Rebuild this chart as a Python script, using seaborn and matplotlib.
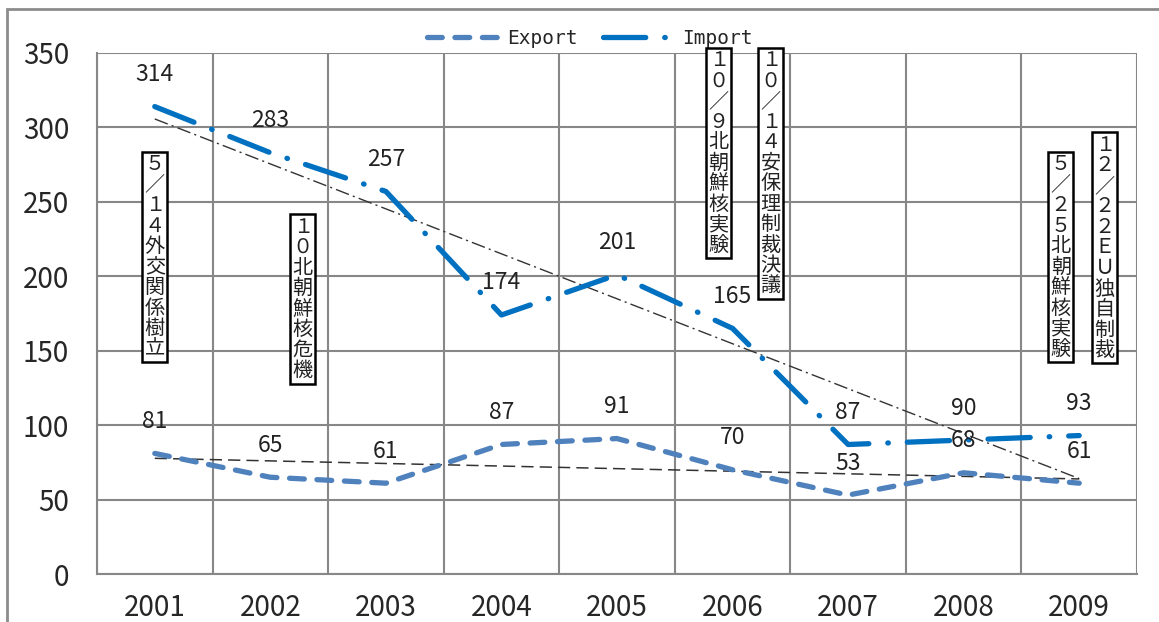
import matplotlib
matplotlib.use('Agg')
import numpy as np
import pandas as pd
import seaborn as sns
import matplotlib.pyplot as plt
from matplotlib.patches import Rectangle
from matplotlib.ticker import FixedLocator, MultipleLocator

years = ['2001', '2002', '2003', '2004', '2005', '2006', '2007', '2008', '2009']
export_vals = [81, 65, 61, 87, 91, 70, 53, 68, 61]
import_vals = [314, 283, 257, 174, 201, 165, 87, 90, 93]

# event notes: (x in category units, top y, text)
note_x = [0.0, 1.28, 4.88, 5.33, 7.84, 8.22]
note_top = [282, 240, 352, 352, 282, 295]
note_txt = ['５／１４外交関係樹立', '１０北朝鮮核危機', '１０／９北朝鮮核実験',
            '１０／１４安保理制裁決議', '５／２５北朝鮮核実験', '１２／２２ＥＵ独自制裁']

export_color = '#4f81bd'
import_color = '#0070c0'
grid_color = '#878787'

sns.set_style("white")
plt.rcParams['font.family'] = ['Noto Sans CJK JP', 'DejaVu Sans']

xs = np.arange(len(years))
fig = plt.figure(figsize=(11.59, 6.22), dpi=100)
ax = fig.add_axes([97/1159, 48/622, 1040/1159, 521/622])

# outer chart frame
fig.patches.append(Rectangle((7/1159, -0.2), 1.2, 1 - 9/622 + 0.2, transform=fig.transFigure,
                             fill=False, ec='#8c8c8c', lw=2))

sns.lineplot(x=xs, y=export_vals, ax=ax, color=export_color, lw=3.8,
             linestyle=(0, (2.8, 2.4)), dash_capstyle='round', label='Export', zorder=3)
sns.lineplot(x=xs, y=import_vals, ax=ax, color=import_color, lw=3.8,
             linestyle=(0, (8.0, 3.6, 0.1, 3.6)), dash_capstyle='round', label='Import', zorder=4)

# linear trend lines
sns.regplot(x=xs, y=export_vals, ax=ax, scatter=False, ci=None, truncate=True,
            line_kws=dict(color='#333333', lw=1.1, linestyle=(0, (8, 4))))
sns.regplot(x=xs, y=import_vals, ax=ax, scatter=False, ci=None, truncate=True,
            line_kws=dict(color='#333333', lw=1.0, linestyle=(0, (10, 3, 1.5, 3))))

for x, v in zip(xs, export_vals):
    ax.annotate(str(v), (x, v), xytext=(0, 32), textcoords='offset pixels',
                ha='center', va='center', fontsize=16.5, color='#222222', zorder=5)
for x, v in zip(xs, import_vals):
    ax.annotate(str(v), (x, v), xytext=(0, 32), textcoords='offset pixels',
                ha='center', va='center', fontsize=16.5, color='#222222', zorder=5)

for x, t, s in zip(note_x, note_top, note_txt):
    ax.text(x, t, '\n'.join(s), ha='center', va='top', fontsize=14.5, linespacing=0.97,
            color='#222222', zorder=6, clip_on=False,
            bbox=dict(boxstyle='square,pad=0.12', fc='white', ec='black', lw=1.8))

ax.set_xlim(-0.5, len(years) - 0.5)
ax.set_ylim(0, 350)
ax.set_xticks(xs)
ax.set_xticklabels(years)
ax.xaxis.set_minor_locator(FixedLocator(np.arange(-0.5, len(years), 1.0)))
ax.yaxis.set_major_locator(MultipleLocator(50))
ax.grid(False)
ax.grid(True, which='minor', axis='x', color=grid_color, lw=1.5)
ax.grid(True, which='major', axis='y', color=grid_color, lw=1.5)
ax.tick_params(axis='x', which='major', length=0, pad=14, labelsize=20)
ax.tick_params(axis='x', which='minor', length=8, width=1.5, color=grid_color, direction='out')
ax.tick_params(axis='y', which='major', length=7, width=1.5, color=grid_color, direction='out',
               pad=13, labelsize=20)
for sp in ['top', 'right']:
    ax.spines[sp].set_visible(False)
for sp in ['left', 'bottom']:
    ax.spines[sp].set_color(grid_color)
    ax.spines[sp].set_linewidth(1.5)
ax.set_xlabel('')
ax.set_ylabel('')

leg = ax.legend(loc='center', bbox_to_anchor=(590/1159, 1 - 38/622), bbox_transform=fig.transFigure,
                ncol=2, frameon=False, handlelength=3.8, columnspacing=1.3, handletextpad=0.3,
                prop=dict(family='DejaVu Sans Mono', size=14))

fig.savefig('out.png', dpi=100)
